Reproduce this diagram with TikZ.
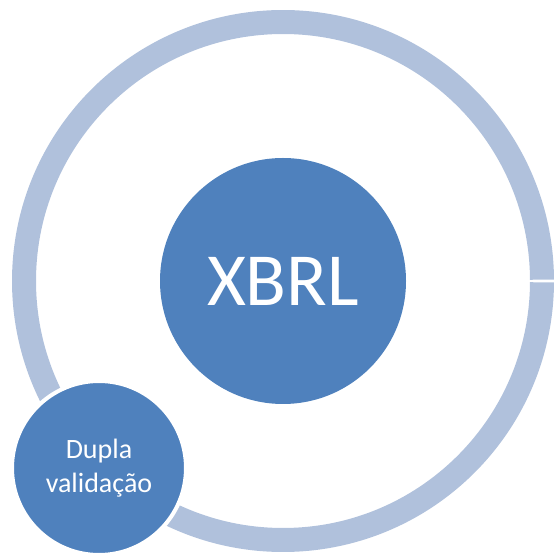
\documentclass[tikz,border=0pt]{standalone}
\usepackage{fontspec}
\setmainfont{Carlito}
\definecolor{ringcol}{RGB}{176,193,220}
\definecolor{discol}{RGB}{79,129,189}
\tikzset{
  ringarc/.style={draw=ringcol, line width=24pt},
  bigdisc/.style={circle, fill=discol, inner sep=0pt, minimum size=246pt, text=white, font=\fontsize{75}{80}\selectfont},
  smalldisc/.style={circle, fill=discol, draw=white, line width=4pt, inner sep=0pt, minimum size=174pt, text=white, align=center, font=\fontsize{28}{33.6}\selectfont}
}
\begin{document}
\begin{tikzpicture}[x=1pt,y=1pt]
\useasboundingbox (0,0) rectangle (554,554);
\coordinate (c) at (283,273);
\draw[ringarc] ([shift={(0.3:259)}]c) arc[start angle=0.3, end angle=359.7, radius=259];
\node[bigdisc] (xbrl) at (c) {XBRL};
\node[smalldisc] (dupla) at (99,86) {Dupla\\validação};
\end{tikzpicture}
\end{document}
